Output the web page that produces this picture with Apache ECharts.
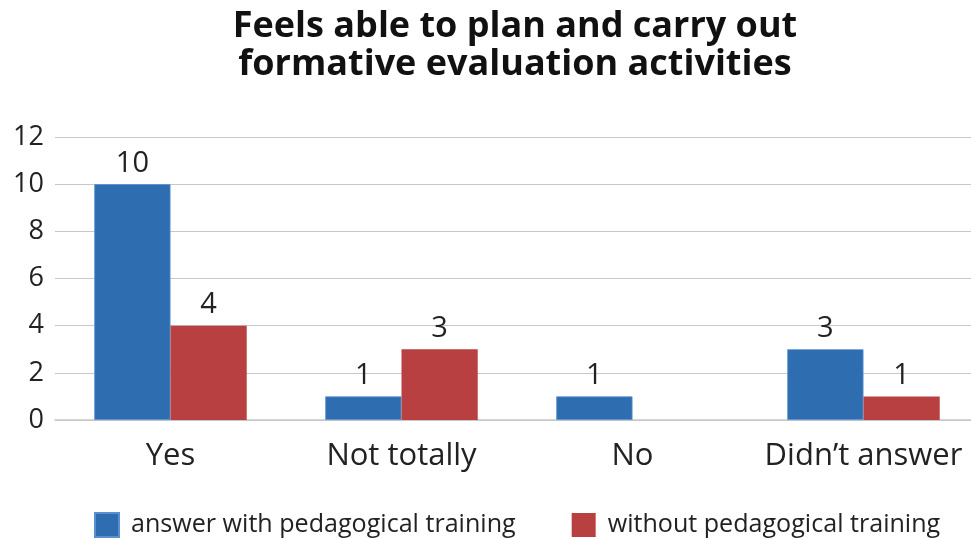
<!DOCTYPE html>
<html><head><meta charset="utf-8">
<script src="https://cdn.jsdelivr.net/npm/echarts@6/dist/echarts.min.js"></script>
<style>html,body{margin:0;padding:0;background:#fff;overflow:hidden;width:971px;height:539px}#c{width:990px;height:539px}</style>
</head><body><div id="c"></div>
<script>
const categories = ['Yes', 'Not totally', 'No', 'Didn\u2019t answer'];
const withTraining = [10, 1, 1, 3];
const withoutTraining = [4, 3, null, 1];
const yTicks = [0, 2, 4, 6, 8, 10, 12];
const seriesNames = ['answer with pedagogical training', 'without pedagogical training'];

const font = '"Open Sans", "Noto Sans", sans-serif';
const chart = echarts.init(document.getElementById('c'), null, {renderer: 'canvas'});
chart.setOption({
  animation: false,
  textStyle: {fontFamily: font},
  title: {
    text: 'Feels able to plan and carry out\nformative evaluation activities',
    left: 510, top: 3, textAlign: 'center',
    textStyle: {fontFamily: font, fontSize: 36, fontWeight: 'bold', color: '#111', lineHeight: 38}
  },
  legend: {
    bottom: 1, left: 94, itemWidth: 24, itemHeight: 24, itemGap: 56,
    icon: 'rect', padding: 0,
    textStyle: {fontFamily: font, fontSize: 25.1, color: '#222', padding: [0, 0, 0, 7]},
    data: seriesNames
  },
  grid: {left: 55, width: 924, top: 137, height: 283},
  xAxis: {
    type: 'category', data: categories,
    axisLine: {lineStyle: {color: '#c8c8c8', width: 1.5}},
    axisTick: {show: false},
    axisLabel: {interval: 0, fontFamily: font, fontSize: 31, color: '#222', margin: 21}
  },
  yAxis: {
    type: 'value', min: 0, max: 12, interval: 2,
    axisLine: {show: false}, axisTick: {show: false},
    axisLabel: {fontFamily: font, fontSize: 27, color: '#222', margin: 11,
      formatter: v => yTicks.includes(v) ? String(v) : ''},
    splitLine: {lineStyle: {color: '#c8c8c8', width: 1.2}}
  },
  series: [
    {name: seriesNames[0], type: 'bar', data: withTraining, barGap: '0%', barCategoryGap: '34%',
     itemStyle: {color: '#2e6db0', borderColor: '#5b8fd0', borderWidth: 0.8},
     label: {show: true, position: 'top', distance: 6, fontFamily: font, fontSize: 29, color: '#222'}},
    {name: seriesNames[1], type: 'bar', data: withoutTraining,
     itemStyle: {color: '#b94040'},
     label: {show: true, position: 'top', distance: 6, fontFamily: font, fontSize: 29, color: '#222'}}
  ]
});
</script></body></html>
